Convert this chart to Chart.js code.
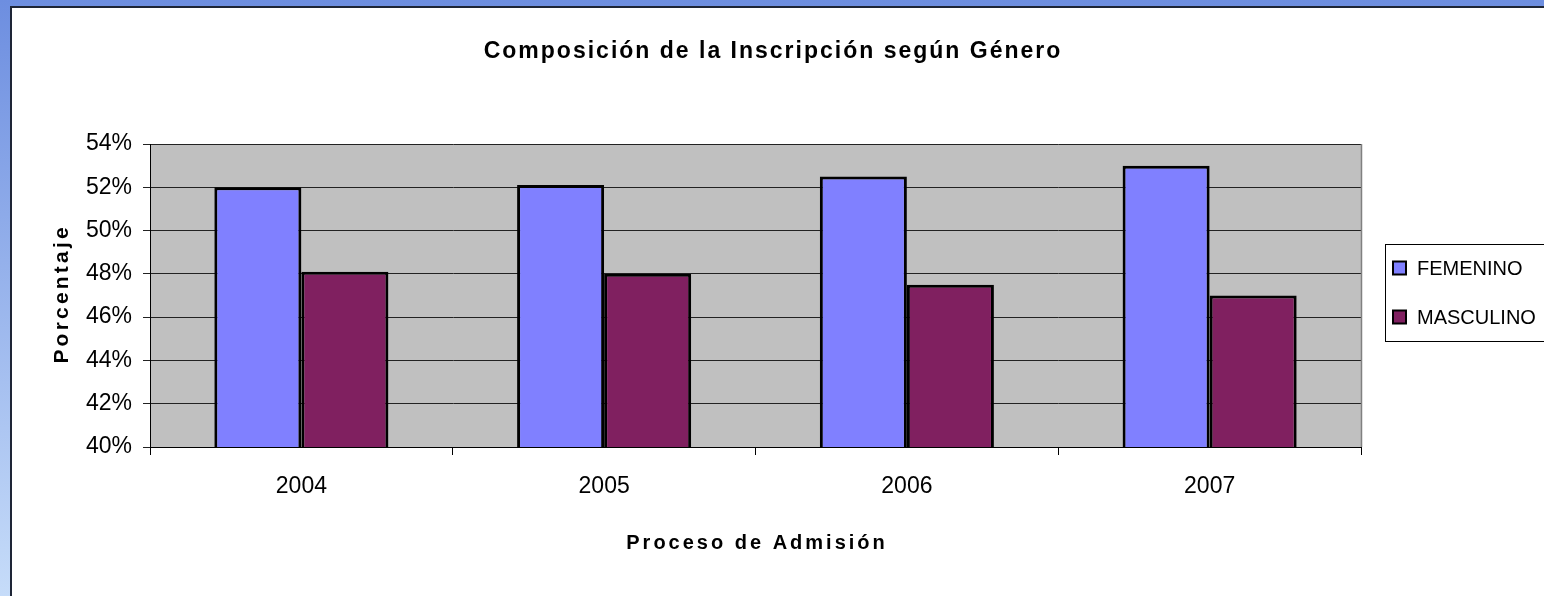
<!DOCTYPE html>
<html><head><meta charset="utf-8">
<script src="https://cdn.jsdelivr.net/npm/chart.js@4"></script>
<style>
html,body{margin:0;padding:0;width:1544px;height:596px;overflow:hidden;background:linear-gradient(#6d8ee0,#c6dcf9);}
#panel{position:absolute;left:10px;top:6px;width:1600px;height:700px;background:#fff;border-left:2px solid #1e2536;border-top:2px solid #1e2536;}
#c{position:absolute;left:0;top:0;}
</style></head><body><div id="panel"></div><canvas id="c" width="1544" height="596"></canvas>
<script>
const categories = ['2004', '2005', '2006', '2007'];
const femenino = [52.0, 52.1, 52.5, 53.0];
const masculino = [48.1, 48.0, 47.5, 47.0];
const yTicks = [40, 42, 44, 46, 48, 50, 52, 54];
const seriesLabels = ['FEMENINO', 'MASCULINO'];
const chartTitle = 'Composición de la Inscripción según Género';
const xTitle = 'Proceso de Admisión';
const yTitle = 'Porcentaje';

const FONT = '"Liberation Sans", Arial, sans-serif';

function spacedWidth(ctx, text, sp) {
  let w = 0;
  for (const ch of text) w += ctx.measureText(ch).width + sp;
  return w - sp;
}
function drawSpaced(ctx, text, cx, cy, sp) {
  const w = spacedWidth(ctx, text, sp);
  let x = cx - w / 2;
  ctx.textAlign = 'left';
  ctx.textBaseline = 'middle';
  for (const ch of text) {
    ctx.fillText(ch, x, cy);
    x += ctx.measureText(ch).width + sp;
  }
}

const decor = {
  id: 'decor',
  beforeDraw(chart) {
    const {ctx, chartArea: a} = chart;
    ctx.save();
    ctx.fillStyle = '#c0c0c0';
    ctx.fillRect(a.left, a.top, a.right - a.left, a.bottom - a.top);
    ctx.restore();
  },
  afterDraw(chart) {
    const {ctx, chartArea: a} = chart;
    ctx.save();
    ctx.strokeStyle = '#808080';
    ctx.lineWidth = 1.5;
    ctx.beginPath();
    ctx.moveTo(a.right + 0.5, a.top);
    ctx.lineTo(a.right + 0.5, a.bottom);
    ctx.stroke();
    ctx.fillStyle = '#000';
    ctx.font = 'bold 23px ' + FONT;
    drawSpaced(ctx, chartTitle, chart.width / 2, 52, 2);
    ctx.font = 'bold 20px ' + FONT;
    drawSpaced(ctx, xTitle, (a.left + a.right) / 2, 543, 3);
    ctx.save();
    ctx.translate(62, (a.top + a.bottom) / 2);
    ctx.rotate(-Math.PI / 2);
    ctx.font = 'bold 21px ' + FONT;
    drawSpaced(ctx, yTitle, 0, 0, 3.2);
    ctx.restore();
    ctx.strokeStyle = '#000';
    ctx.lineWidth = 1;
    ctx.strokeRect(1385.5, 244.5, 220, 97);
    const ys = [268, 317];
    chart.data.datasets.forEach((ds, i) => {
      const cy = ys[i];
      ctx.fillStyle = ds.backgroundColor;
      ctx.fillRect(1393, cy - 6.5, 13, 13);
      ctx.lineWidth = 2;
      ctx.strokeRect(1393, cy - 6.5, 13, 13);
      ctx.fillStyle = '#000';
      ctx.font = '20px ' + FONT;
      ctx.textAlign = 'left';
      ctx.textBaseline = 'middle';
      ctx.fillText(ds.label, 1417, cy + 1);
    });
    ctx.restore();
  }
};

new Chart(document.getElementById('c'), {
  type: 'bar',
  data: {
    labels: categories,
    datasets: [
      {label: seriesLabels[0], data: femenino, backgroundColor: '#8080ff', borderColor: '#000', borderWidth: 3, borderSkipped: false},
      {label: seriesLabels[1], data: masculino, backgroundColor: '#802060', borderColor: '#000', borderWidth: 3, borderSkipped: false}
    ]
  },
  options: {
    responsive: false,
    animation: false,
    layout: {padding: {top: 144, right: 183, left: 0, bottom: 0}},
    datasets: {bar: {categoryPercentage: 0.575, barPercentage: 1}},
    plugins: {legend: {display: false}, title: {display: false}, tooltip: {enabled: false}},
    scales: {
      x: {
        grid: {offset: true, drawOnChartArea: false, drawTicks: true, tickLength: 8, color: '#000'},
        border: {color: '#000', width: 1},
        ticks: {color: '#000', font: {family: FONT, size: 23}, padding: 18},
        afterFit(s) { s.height = 149; }
      },
      y: {
        min: 40, max: 54,
        grid: {color: '#222', tickLength: 7, lineWidth: 1},
        border: {color: '#000', width: 1},
        ticks: {color: '#000', font: {family: FONT, size: 23}, padding: 11, callback: v => v + '%'},
        afterBuildTicks(s) { s.ticks = yTicks.map(v => ({value: v})); },
        afterFit(s) { s.width = 150; }
      }
    }
  },
  plugins: [decor]
});
</script></body></html>
